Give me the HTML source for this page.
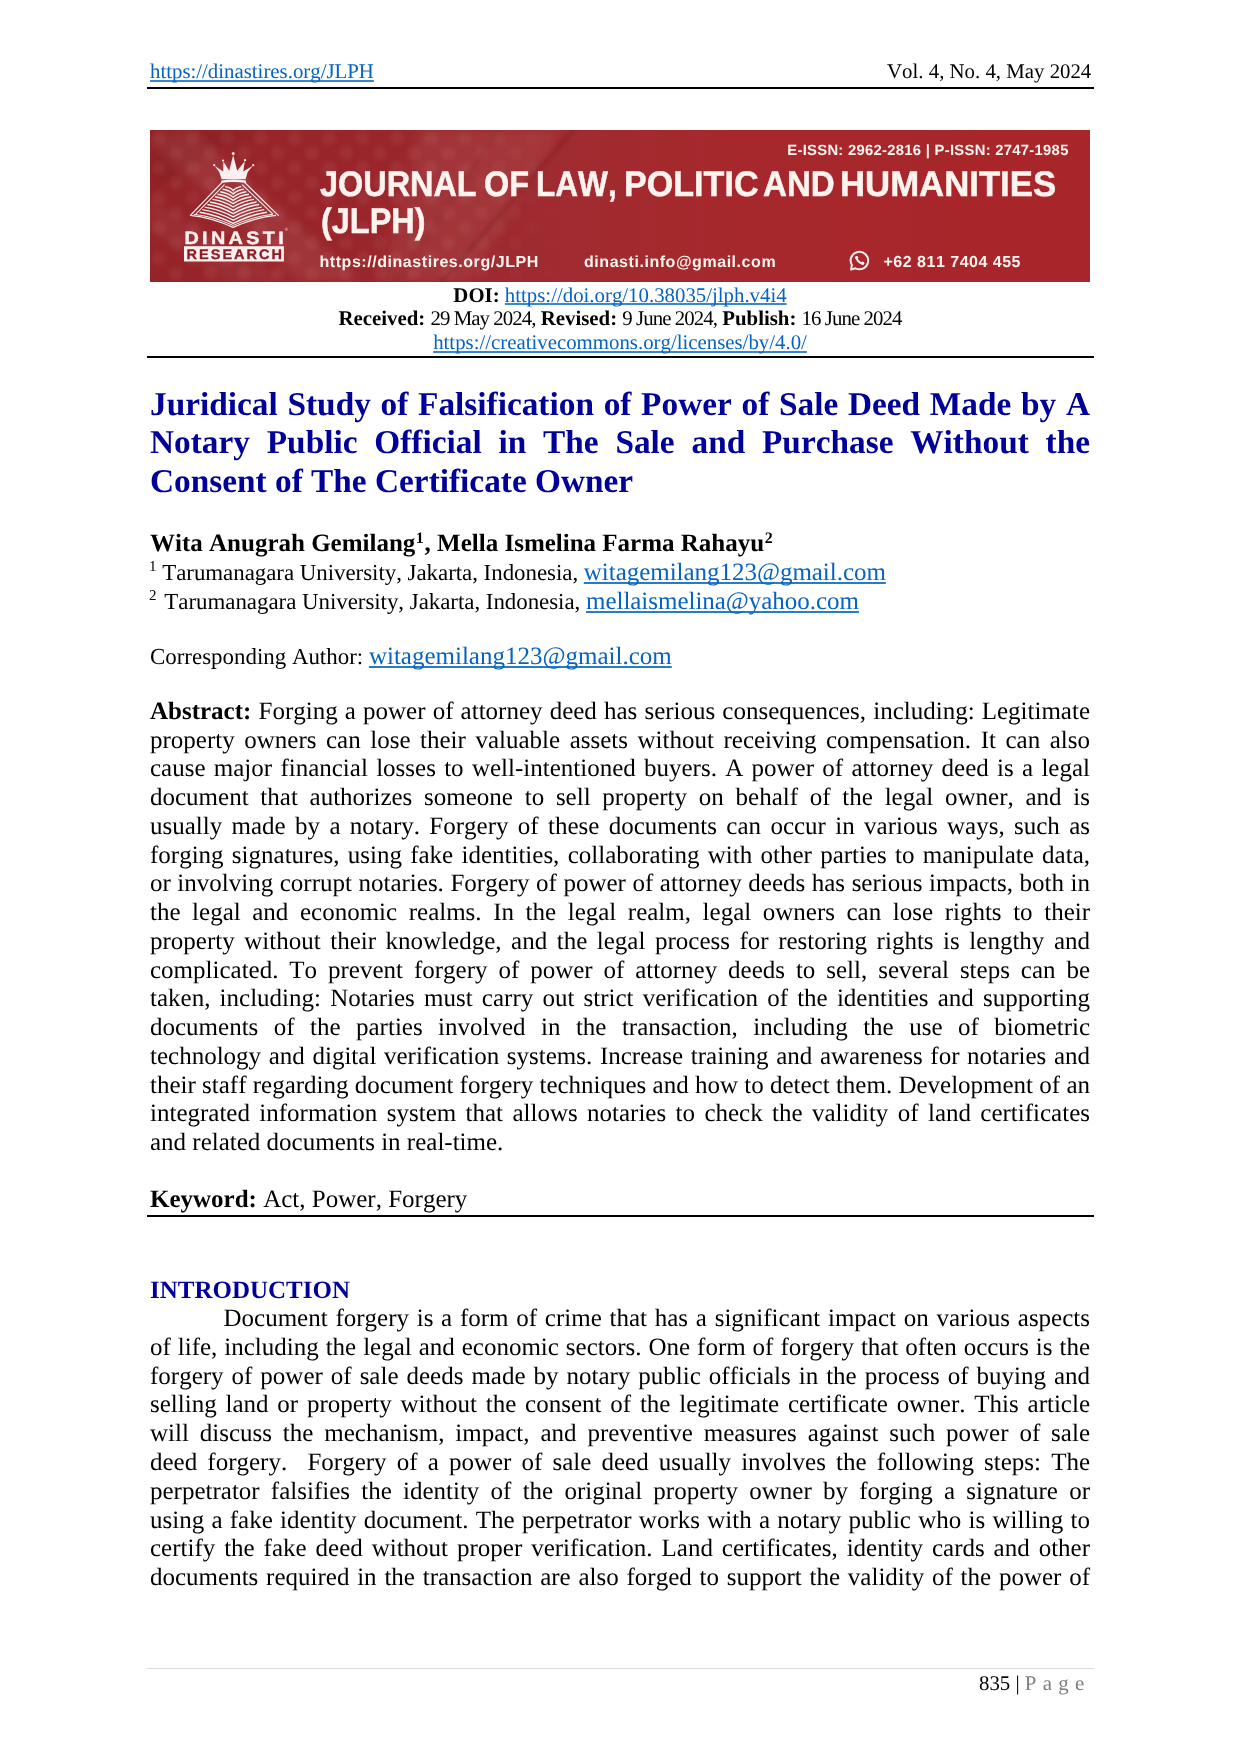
<!DOCTYPE html>
<html lang="en">
<head>
<meta charset="utf-8">
<title>JLPH - Juridical Study</title>
<style>
html,body{margin:0;padding:0;background:#fff;}
body{width:1240px;height:1754px;position:relative;overflow:hidden;font-family:"Liberation Serif",serif;color:#000;font-kerning:none;font-variant-ligatures:none;text-rendering:geometricPrecision;}
#pg{position:absolute;left:0;top:0;width:1240px;height:1754px;will-change:transform;}
.l{position:absolute;white-space:nowrap;}
.j{white-space:nowrap;text-align:justify;text-align-last:justify;overflow:visible;}
.t{color:#000099;font-weight:bold;}
a{color:#0563c1;text-decoration:underline;text-decoration-skip-ink:none;text-decoration-thickness:2px;text-underline-offset:1px;text-decoration-color:rgba(5,99,193,0.78);}
.u2{text-underline-offset:2px;}
.e{font-size:25px;text-decoration-thickness:2px;text-underline-offset:2px;text-decoration-color:rgba(5,99,193,0.85);}
.c{letter-spacing:-0.93px;}
sup{font-size:16px;vertical-align:baseline;position:relative;top:-8.5px;line-height:0;margin-left:0.5px;margin-right:0.8px;}
sup.s{font-size:15px;top:-9.4px;margin:0 0 0 -1px;}
.af{letter-spacing:-0.03px;}
.rule{position:absolute;background:#000;}
.bn{position:absolute;color:#fdf4ef;font-family:"Liberation Sans",sans-serif;font-weight:bold;white-space:nowrap;}
</style>
</head>
<body>
<div id="pg">
<div class="l " style="left:150px;top:59px;font-size:20.83px;line-height:25px;height:25px;"><a class="u2">https://dinastires.org/JLPH</a></div>
<div class="l " style="left:790px;top:59px;font-size:20.83px;line-height:25px;height:25px;width:301.3px;text-align:right;">Vol. 4, No. 4, May 2024</div>
<div class="rule" style="left:147px;top:86.5px;width:947px;height:2px"></div>
<svg style="position:absolute;left:150px;top:130px" width="940" height="152" viewBox="150 130 940 152">
<defs>
<linearGradient id="bg" x1="0" y1="0" x2="1" y2="0"><stop offset="0" stop-color="#962328"/><stop offset="0.25" stop-color="#9a262b"/><stop offset="0.45" stop-color="#a02b30"/><stop offset="0.62" stop-color="#a6282c"/><stop offset="1" stop-color="#a9252a"/></linearGradient>
<filter id="bl" x="-20%" y="-20%" width="140%" height="140%"><feGaussianBlur stdDeviation="5"/></filter>
<filter id="bl2" x="-20%" y="-20%" width="140%" height="140%"><feGaussianBlur stdDeviation="2"/></filter>
<pattern id="hx" x="150" y="130" width="34" height="30" patternUnits="userSpaceOnUse"><circle cx="9" cy="8" r="7" fill="#fff" opacity="0.05"/><circle cx="26" cy="23" r="7" fill="#fff" opacity="0.05"/></pattern>
<linearGradient id="fade" x1="0" y1="0" x2="1" y2="0"><stop offset="0" stop-color="#fff" stop-opacity="1"/><stop offset="0.7" stop-color="#fff" stop-opacity="1"/><stop offset="1" stop-color="#fff" stop-opacity="0"/></linearGradient>
<mask id="mk"><rect x="150" y="130" width="430" height="152" fill="url(#fade)"/></mask>
<clipPath id="cp"><rect x="150" y="130" width="940" height="152"/></clipPath>
</defs>
<rect x="150" y="130" width="940" height="152" fill="url(#bg)"/>
<g clip-path="url(#cp)">
<g filter="url(#bl)">
<polygon points="150,140 190,130 360,282 300,282" fill="#fff" opacity="0.07"/>
<polygon points="150,200 150,230 230,282 290,282" fill="#fff" opacity="0.05"/>
<polygon points="420,130 560,130 470,282 380,282" fill="#fff" opacity="0.06"/>
<polygon points="150,130 260,130 150,190" fill="#000" opacity="0.06"/>
</g>
<rect x="150" y="130" width="430" height="152" fill="url(#hx)" mask="url(#mk)" filter="url(#bl2)"/>
<g filter="url(#bl2)">
<line x1="575" y1="128" x2="440" y2="284" stroke="#5a1216" stroke-width="4" opacity="0.22"/>
<line x1="500" y1="128" x2="395" y2="284" stroke="#5a1216" stroke-width="3" opacity="0.12"/>
</g>
</g>
<g><path d="M221.6 179.3 L219.4 172.2 L214.6 165.8 L223.2 171.6 L223.4 161.5 L229.2 170.8 L233.2 155.0 L237.2 170.8 L244.9 161.0 L243.2 171.6 L252.8 165.8 L247.6 172.2 L245.6 179.3 Z" fill="#fbefef"/><circle cx="233.2" cy="153.6" r="1.5" fill="#fbefef"/><circle cx="223.0" cy="160.6" r="1.1" fill="#fbefef"/><circle cx="245.1" cy="160.2" r="1.1" fill="#fbefef"/><circle cx="214.2" cy="165.2" r="1.1" fill="#fbefef"/><circle cx="253.2" cy="165.2" r="1.1" fill="#fbefef"/><path d="M221.4 180.6 Q233.3 178.6 245.9 180.6 L246.2 183 Q233.3 181 221.2 183 Z" fill="#fbefef"/><path d="M221.8 182.6 L190.4 215.4 M244.8 182.6 L278.3 215.4" stroke="#fbefef" stroke-width="1.3" fill="none" stroke-linecap="round"/><path d="M224.2 184.8 L196.0 213.8 M242.4 184.8 L272.6 213.8" stroke="#fbefef" stroke-width="1.1" fill="none" stroke-linecap="round"/><path d="M225.2 186.6 Q230.0 187.0 233.2 190.6 Q236.4 187.0 241.2 186.6" stroke="#fbefef" stroke-width="1.45" fill="none"/><path d="M222.6 189.2 Q228.7 189.8 233.2 193.9 Q237.7 189.8 243.8 189.2" stroke="#fbefef" stroke-width="1.45" fill="none"/><path d="M220.1 191.7 Q227.4 192.6 233.2 197.2 Q239.0 192.6 246.3 191.7" stroke="#fbefef" stroke-width="1.45" fill="none"/><path d="M217.5 194.3 Q226.2 195.4 233.2 200.4 Q240.2 195.4 248.9 194.3" stroke="#fbefef" stroke-width="1.45" fill="none"/><path d="M215.0 196.8 Q224.9 198.2 233.2 203.7 Q241.5 198.2 251.4 196.8" stroke="#fbefef" stroke-width="1.45" fill="none"/><path d="M212.4 199.4 Q223.6 201.0 233.2 207.0 Q242.8 201.0 254.0 199.4" stroke="#fbefef" stroke-width="1.45" fill="none"/><path d="M209.8 202.0 Q222.3 203.8 233.2 210.3 Q244.1 203.8 256.6 202.0" stroke="#fbefef" stroke-width="1.45" fill="none"/><path d="M207.3 204.5 Q221.0 206.6 233.2 213.6 Q245.4 206.6 259.1 204.5" stroke="#fbefef" stroke-width="1.45" fill="none"/><path d="M204.7 207.1 Q219.8 209.4 233.2 216.8 Q246.6 209.4 261.7 207.1" stroke="#fbefef" stroke-width="1.45" fill="none"/><path d="M202.2 209.6 Q218.5 212.2 233.2 220.1 Q247.9 212.2 264.2 209.6" stroke="#fbefef" stroke-width="1.45" fill="none"/><path d="M199.6 212.2 Q217.2 215.0 233.2 223.4 Q249.2 215.0 266.8 212.2" stroke="#fbefef" stroke-width="1.45" fill="none"/><path d="M190.4 215.4 Q211.8 217.6 233.2 227.4 Q254.6 217.6 276.0 215.4" stroke="#fbefef" stroke-width="1.4" fill="none" stroke-linejoin="round"/><path d="M193.8 214.3 Q213.5 216.5 233.2 225.4 Q252.9 216.5 272.6 214.3" stroke="#fbefef" stroke-width="1.0" fill="none" stroke-linejoin="round"/><rect x="184" y="246.2" width="99.9" height="15.3" fill="#fbefef"/></g>
<text transform="translate(184.4 244) scale(1.1 1)" x="0" y="0" font-family="Liberation Sans, sans-serif" font-weight="bold" font-size="18" fill="#fbefef" stroke="#fbefef" stroke-width="0.45" textLength="90.4" lengthAdjust="spacing">DINASTI</text>
<text transform="translate(186.6 259.1) scale(1.05 1)" x="0" y="0" font-family="Liberation Sans, sans-serif" font-weight="bold" font-size="13.8" fill="#8e1c22" stroke="#8e1c22" stroke-width="0.3" textLength="90.9" lengthAdjust="spacing">RESEARCH</text>
<text x="284.8" y="230.5" font-family="Liberation Sans, sans-serif" font-size="4.5" fill="#fbefef" opacity="0.8">®</text>
<g fill="none" stroke="#fbefef" stroke-linecap="round" stroke-linejoin="round"><path d="M851.9 265.0 A8.75 8.75 0 1 1 855.4 268.3 L851.0 269.6 Z" stroke-width="2"/><path d="M856.4 257.4 Q857.6 262.4 862.8 263.6" stroke-width="2.1"/></g><circle cx="856.6" cy="257.6" r="1.7" fill="#fbefef"/><circle cx="862.6" cy="263.3" r="1.7" fill="#fbefef"/>
</svg>
<div class="bn" style="left:0;top:164px;font-size:35.5px;line-height:40px;height:40px;width:1240px;-webkit-text-stroke:0.5px #fdf4ef"><span style="position:absolute;left:320.0px;top:0;transform:scaleX(0.9129);transform-origin:0 0">JOURNAL</span> <span style="position:absolute;left:483.6px;top:0;transform:scaleX(0.9128);transform-origin:0 0">OF</span> <span style="position:absolute;left:536.2px;top:0;transform:scaleX(0.8895);transform-origin:0 0">LAW,</span> <span style="position:absolute;left:623.9px;top:0;transform:scaleX(0.9606);transform-origin:0 0">POLITIC</span> <span style="position:absolute;left:763.0px;top:0;transform:scaleX(0.9324);transform-origin:0 0">AND</span> <span style="position:absolute;left:839.9px;top:0;transform:scaleX(0.9783);transform-origin:0 0">HUMANITIES</span></div>
<div class="bn" style="left:320.5px;top:201px;font-size:35.5px;line-height:40px;-webkit-text-stroke:0.5px #fdf4ef;transform:scaleX(0.9145);transform-origin:0 0">(JLPH)</div>
<div class="bn" style="left:787.3px;top:143px;font-size:14.8px;line-height:16px;letter-spacing:0.29px">E-ISSN: 2962-2816 | P-ISSN: 2747-1985</div>
<div class="bn" style="left:319.5px;top:254.2px;font-size:16px;line-height:18px;letter-spacing:0.55px">https://dinastires.org/JLPH</div>
<div class="bn" style="left:584px;top:254.2px;font-size:16px;line-height:18px;letter-spacing:0.55px">dinasti.info@gmail.com</div>
<div class="bn" style="left:883.5px;top:254.2px;font-size:16px;line-height:18px;letter-spacing:0.5px">+62 811 7404 455</div>
<div class="l " style="left:150px;top:283px;font-size:20.83px;line-height:25px;height:25px;width:940px;text-align:center;"><b>DOI:</b> <a>https://doi.org/10.38035/jlph.v4i4</a></div>
<div class="l " style="left:150px;top:306px;font-size:20.83px;line-height:25px;height:25px;width:940px;text-align:center;"><b>Received:</b> <span class="c">29 May 2024,</span> <b>Revised:</b> <span class="c">9 June 2024,</span> <b>Publish:</b> <span class="c">16 June 2024</span></div>
<div class="l " style="left:150px;top:330px;font-size:20.83px;line-height:25px;height:25px;width:940px;text-align:center;"><a class="u2">https://creativecommons.org/licenses/by/4.0/</a></div>
<div class="rule" style="left:147px;top:356px;width:947px;height:2px"></div>
<div class="l t j" style="left:150px;top:385px;font-size:33.33px;line-height:40px;height:40px;width:940px;">Juridical Study of Falsification of Power of Sale Deed Made by A</div>
<div class="l t j" style="left:150px;top:423px;font-size:33.33px;line-height:40px;height:40px;width:940px;">Notary Public Official in The Sale and Purchase Without the</div>
<div class="l t" style="left:150px;top:462px;font-size:33.33px;line-height:40px;height:40px;width:940px;">Consent of The Certificate Owner</div>
<div class="l " style="left:150px;top:529px;font-size:25px;line-height:30px;height:30px;"><b>Wita Anugrah Gemilang<sup>1</sup>, Mella Ismelina Farma Rahayu<sup>2</sup></b></div>
<div class="l af" style="left:150px;top:559px;font-size:22.92px;line-height:28px;height:28px;"><sup class="s">1</sup> Tarumanagara University, Jakarta, Indonesia, <a class="e">witagemilang123@gmail.com</a></div>
<div class="l af" style="left:150px;top:588px;font-size:22.92px;line-height:28px;height:28px;"><sup class="s" style="margin-right:2.2px">2</sup> Tarumanagara University, Jakarta, Indonesia, <a class="e">mellaismelina@yahoo.com</a></div>
<div class="l " style="left:150px;top:643px;font-size:22.92px;line-height:28px;height:28px;">Corresponding Author: <a class="e">witagemilang123@gmail.com</a></div>
<div class="l j" style="left:150px;top:697px;font-size:25px;line-height:30px;height:30px;width:940px;"><b>Abstract:</b> Forging a power of attorney deed has serious consequences, including: Legitimate</div>
<div class="l j" style="left:150px;top:726px;font-size:25px;line-height:30px;height:30px;width:940px;">property owners can lose their valuable assets without receiving compensation. It can also</div>
<div class="l j" style="left:150px;top:754px;font-size:25px;line-height:30px;height:30px;width:940px;">cause major financial losses to well-intentioned buyers. A power of attorney deed is a legal</div>
<div class="l j" style="left:150px;top:783px;font-size:25px;line-height:30px;height:30px;width:940px;">document that authorizes someone to sell property on behalf of the legal owner, and is</div>
<div class="l j" style="left:150px;top:812px;font-size:25px;line-height:30px;height:30px;width:940px;">usually made by a notary. Forgery of these documents can occur in various ways, such as</div>
<div class="l j" style="left:150px;top:841px;font-size:25px;line-height:30px;height:30px;width:940px;">forging signatures, using fake identities, collaborating with other parties to manipulate data,</div>
<div class="l j" style="left:150px;top:869px;font-size:25px;line-height:30px;height:30px;width:940px;">or involving corrupt notaries. Forgery of power of attorney deeds has serious impacts, both in</div>
<div class="l j" style="left:150px;top:898px;font-size:25px;line-height:30px;height:30px;width:940px;">the legal and economic realms. In the legal realm, legal owners can lose rights to their</div>
<div class="l j" style="left:150px;top:927px;font-size:25px;line-height:30px;height:30px;width:940px;">property without their knowledge, and the legal process for restoring rights is lengthy and</div>
<div class="l j" style="left:150px;top:956px;font-size:25px;line-height:30px;height:30px;width:940px;">complicated. To prevent forgery of power of attorney deeds to sell, several steps can be</div>
<div class="l j" style="left:150px;top:984px;font-size:25px;line-height:30px;height:30px;width:940px;">taken, including: Notaries must carry out strict verification of the identities and supporting</div>
<div class="l j" style="left:150px;top:1013px;font-size:25px;line-height:30px;height:30px;width:940px;">documents of the parties involved in the transaction, including the use of biometric</div>
<div class="l j" style="left:150px;top:1042px;font-size:25px;line-height:30px;height:30px;width:940px;">technology and digital verification systems. Increase training and awareness for notaries and</div>
<div class="l j" style="left:150px;top:1071px;font-size:25px;line-height:30px;height:30px;width:940px;">their staff regarding document forgery techniques and how to detect them. Development of an</div>
<div class="l j" style="left:150px;top:1099px;font-size:25px;line-height:30px;height:30px;width:940px;">integrated information system that allows notaries to check the validity of land certificates</div>
<div class="l " style="left:150px;top:1128px;font-size:25px;line-height:30px;height:30px;width:940px;">and related documents in real-time.</div>
<div class="l " style="left:150px;top:1185px;font-size:25px;line-height:30px;height:30px;"><b>Keyword:</b> Act, Power, Forgery</div>
<div class="rule" style="left:147px;top:1215px;width:947px;height:2px"></div>
<div class="l t" style="left:150px;top:1276px;font-size:25px;line-height:30px;height:30px;"><b>INTRODUCTION</b></div>
<div class="l j" style="left:223.5px;top:1304px;font-size:25px;line-height:30px;height:30px;width:866.5px;">Document forgery is a form of crime that has a significant impact on various aspects</div>
<div class="l j" style="left:150px;top:1333px;font-size:25px;line-height:30px;height:30px;width:940px;">of life, including the legal and economic sectors. One form of forgery that often occurs is the</div>
<div class="l j" style="left:150px;top:1362px;font-size:25px;line-height:30px;height:30px;width:940px;">forgery of power of sale deeds made by notary public officials in the process of buying and</div>
<div class="l j" style="left:150px;top:1390px;font-size:25px;line-height:30px;height:30px;width:940px;">selling land or property without the consent of the legitimate certificate owner. This article</div>
<div class="l j" style="left:150px;top:1419px;font-size:25px;line-height:30px;height:30px;width:940px;">will discuss the mechanism, impact, and preventive measures against such power of sale</div>
<div class="l j" style="left:150px;top:1448px;font-size:25px;line-height:30px;height:30px;width:940px;">deed forgery.&nbsp; Forgery of a power of sale deed usually involves the following steps: The</div>
<div class="l j" style="left:150px;top:1477px;font-size:25px;line-height:30px;height:30px;width:940px;">perpetrator falsifies the identity of the original property owner by forging a signature or</div>
<div class="l j" style="left:150px;top:1506px;font-size:25px;line-height:30px;height:30px;width:940px;">using a fake identity document. The perpetrator works with a notary public who is willing to</div>
<div class="l j" style="left:150px;top:1534px;font-size:25px;line-height:30px;height:30px;width:940px;">certify the fake deed without proper verification. Land certificates, identity cards and other</div>
<div class="l j" style="left:150px;top:1563px;font-size:25px;line-height:30px;height:30px;width:940px;">documents required in the transaction are also forged to support the validity of the power of</div>
<div class="rule" style="left:147px;top:1668px;width:947px;height:1px;background:#d9d9d9"></div>
<div class="l " style="left:979px;top:1671px;font-size:20.83px;line-height:25px;height:25px;">835 | <span style="color:#7f7f7f;letter-spacing:0.55px">P a g e</span></div>
</div>
</body>
</html>
